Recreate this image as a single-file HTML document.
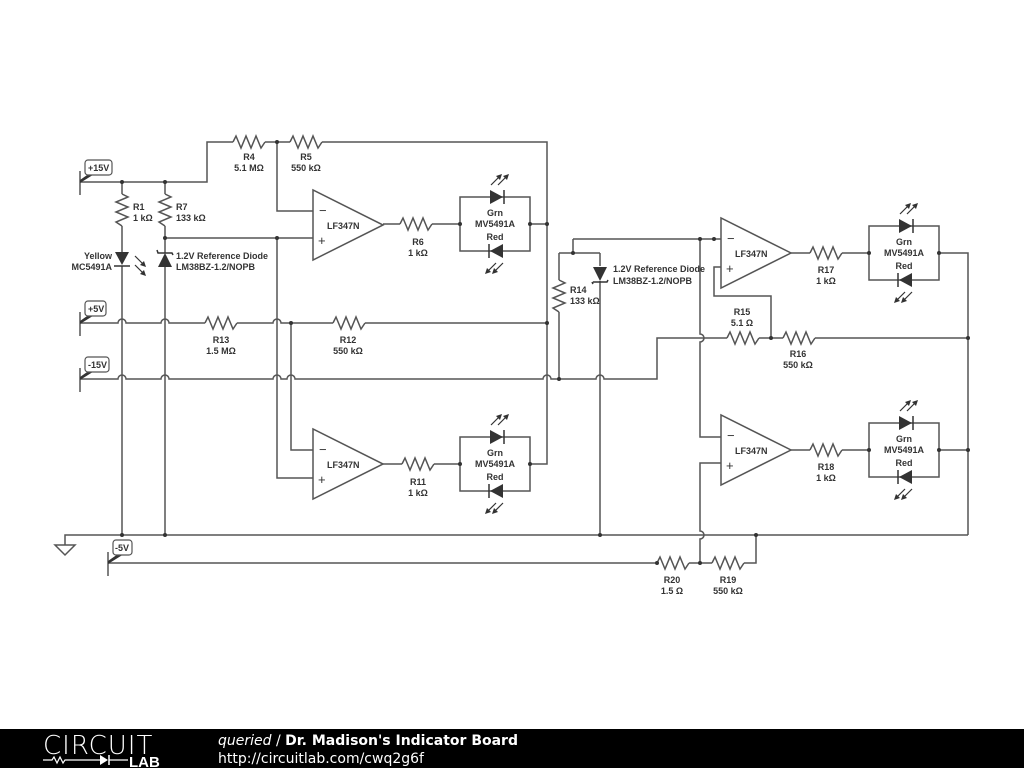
<!DOCTYPE html>
<html><head><meta charset="utf-8"><style>
html,body{margin:0;padding:0;background:#fff;width:1024px;height:768px;overflow:hidden}
svg{display:block}
text{font-family:"Liberation Sans",sans-serif;font-size:9px;fill:#333;font-weight:bold}
</style></head><body>
<svg width="1024" height="768" viewBox="0 0 1024 768">
<defs>
<path id="res" d="M-16 0 L-13 -6 L-8 6 L-3 -6 L2 6 L7 -6 L12 6 L16 0" fill="none" stroke="#555" stroke-width="1.5"/>
<g id="oa"><polygon points="0,0 0,70 70,35" fill="#fff" stroke="#555" stroke-width="1.5"/><text x="6" y="25" style="font-size:13px;font-weight:normal">−</text><text x="5" y="55" style="font-size:13px;font-weight:normal">+</text><text x="14" y="39">LF347N</text></g>
<g id="au"><path d="M0 0 L9 -9" stroke="#333" stroke-width="1.2"/><polygon points="11,-11 5,-9 9,-5" fill="#333"/></g>
<g id="ad"><path d="M0 0 L-9 9" stroke="#333" stroke-width="1.2"/><polygon points="-11,11 -5,9 -9,5" fill="#333"/></g>
<g id="led">
<rect x="0" y="0" width="70" height="54" fill="none" stroke="#555" stroke-width="1.5"/>
<polygon points="30,-7 30,7 43,0" fill="#333"/><line x1="44" y1="-7" x2="44" y2="7" stroke="#333" stroke-width="1.5"/>
<polygon points="43,47 43,61 30,54" fill="#333"/><line x1="29" y1="47" x2="29" y2="61" stroke="#333" stroke-width="1.5"/>
<use href="#au" x="31" y="-12"/><use href="#au" x="38" y="-12"/>
<use href="#ad" x="36" y="66"/><use href="#ad" x="43" y="66"/>
<text x="35" y="19" text-anchor="middle">Grn</text><text x="35" y="30" text-anchor="middle">MV5491A</text><text x="35" y="43" text-anchor="middle">Red</text>
<circle cx="0" cy="27" r="2" fill="#333"/><circle cx="70" cy="27" r="2" fill="#333"/>
</g>
<g id="sup"><line x1="0" y1="-11" x2="0" y2="13" stroke="#555" stroke-width="1.5"/><polygon points="0,1 16,-9 10,-9 0,-2" fill="#333"/></g>
</defs>
<g stroke="#555" stroke-width="1.5" fill="none">
<path d="M80 182 H207 V142 H233 M265 142 H290 M322 142 H547 V464 H530"/>
<path d="M277 142 V211 H313"/>
<path d="M165 238 H313"/>
<path d="M383 224 H400 M432 224 H460 M530 224 H547"/>
<path d="M122 182 V194 M122 226 V252 M122 266 V535"/>
<path d="M165 182 V194 M165 226 V253 M165 267 V535"/>
<path d="M80 323 H118 a4 4 0 0 1 8 0 H161 a4 4 0 0 1 8 0 H205 M237 323 H273 a4 4 0 0 1 8 0 H333 M365 323 H547"/>
<path d="M80 379 H118 a4 4 0 0 1 8 0 H161 a4 4 0 0 1 8 0 H273 a4 4 0 0 1 8 0 H287 a4 4 0 0 1 8 0 H543 a4 4 0 0 1 8 0 H596 a4 4 0 0 1 8 0 H657 V338 H727 M759 338 H783 M815 338 H968"/>
<path d="M277 238 V478 H313"/>
<path d="M291 323 V450 H313"/>
<path d="M383 464 H402 M434 464 H460"/>
<path d="M573 239 V253 H600 M559 253 H573 M559 253 V280 M559 312 V379"/>
<path d="M600 253 V266 M600 281 V535"/>
<path d="M573 239 H721"/>
<path d="M700 239 V334 a4 4 0 0 1 0 8 V437 H721"/>
<path d="M721 267 H714 V296 H771 V338"/>
<path d="M791 253 H810 M842 253 H869 M940 253 H968 V535"/>
<path d="M791 450 H810 M842 450 H869 M940 450 H968"/>
<path d="M721 463 H700 V531 a4 4 0 0 1 0 8 V563"/>
<path d="M65 545 V535 H968"/>
<path d="M55 545 H75 L65 555 Z"/>
<path d="M108 563 H657 M689 563 H712 M744 563 H756 V535"/>
</g>
<use href="#res" x="249" y="142"/>
<use href="#res" x="306" y="142"/>
<use href="#res" x="416" y="224"/>
<use href="#res" x="221" y="323"/>
<use href="#res" x="349" y="323"/>
<use href="#res" x="418" y="464"/>
<use href="#res" x="743" y="338"/>
<use href="#res" x="799" y="338"/>
<use href="#res" x="826" y="253"/>
<use href="#res" x="826" y="450"/>
<use href="#res" x="673" y="563"/>
<use href="#res" x="728" y="563"/>
<use href="#res" transform="translate(122,210) rotate(90)"/>
<use href="#res" transform="translate(165,210) rotate(90)"/>
<use href="#res" transform="translate(559,296) rotate(90)"/>
<polygon points="115,252 129,252 122,265" fill="#333"/><line x1="114" y1="266" x2="130" y2="266" stroke="#333" stroke-width="1.5"/>
<g transform="translate(135,256)"><path d="M0 0 L9 9" stroke="#333" stroke-width="1.2"/><polygon points="11,11 9,5 5,9" fill="#333"/></g>
<g transform="translate(135,265)"><path d="M0 0 L9 9" stroke="#333" stroke-width="1.2"/><polygon points="11,11 9,5 5,9" fill="#333"/></g>
<polygon points="158,267 172,267 165,253" fill="#333"/><path d="M157 250 l1 3 H172 l1 2" stroke="#333" stroke-width="1.5" fill="none"/>
<polygon points="593,267 607,267 600,281" fill="#333"/><path d="M593 284 l-1 -2 M593 282 H607 l1 -2" stroke="#333" stroke-width="1.5" fill="none"/>
<use href="#oa" x="313" y="190"/>
<use href="#oa" x="313" y="429"/>
<use href="#oa" x="721" y="218"/>
<use href="#oa" x="721" y="415"/>
<use href="#led" x="460" y="197"/>
<use href="#led" x="460" y="437"/>
<use href="#led" x="869" y="226"/>
<use href="#led" x="869" y="423"/>
<g fill="#333">
<circle cx="122" cy="182" r="2"/><circle cx="165" cy="182" r="2"/><circle cx="277" cy="142" r="2"/><circle cx="277" cy="238" r="2"/><circle cx="165" cy="238" r="2"/>
<circle cx="291" cy="323" r="2"/><circle cx="547" cy="323" r="2"/><circle cx="547" cy="224" r="2"/>
<circle cx="573" cy="253" r="2"/><circle cx="559" cy="379" r="2"/><circle cx="700" cy="239" r="2"/><circle cx="714" cy="239" r="2"/>
<circle cx="771" cy="338" r="2"/><circle cx="968" cy="338" r="2"/><circle cx="968" cy="450" r="2"/>
<circle cx="122" cy="535" r="2"/><circle cx="165" cy="535" r="2"/><circle cx="600" cy="535" r="2"/><circle cx="756" cy="535" r="2"/>
<circle cx="657" cy="563" r="2"/><circle cx="700" cy="563" r="2"/>
</g>
<use href="#sup" x="80" y="182"/><use href="#sup" x="80" y="323"/><use href="#sup" x="80" y="379"/><use href="#sup" x="108" y="563"/>
<g fill="#fff" stroke="#555" stroke-width="1.2">
<rect x="85" y="160" width="27" height="15" rx="3"/><rect x="85" y="301" width="21" height="15" rx="3"/><rect x="85" y="357" width="24" height="15" rx="3"/><rect x="113" y="540" width="19" height="15" rx="3"/>
</g>
<text x="88" y="171">+15V</text><text x="88" y="312">+5V</text><text x="88" y="368">-15V</text><text x="115" y="551">-5V</text>
<g text-anchor="middle">
<text x="249" y="160">R4</text><text x="249" y="171">5.1 MΩ</text>
<text x="306" y="160">R5</text><text x="306" y="171">550 kΩ</text>
<text x="418" y="245">R6</text><text x="418" y="256">1 kΩ</text>
<text x="221" y="343">R13</text><text x="221" y="354">1.5 MΩ</text>
<text x="348" y="343">R12</text><text x="348" y="354">550 kΩ</text>
<text x="418" y="485">R11</text><text x="418" y="496">1 kΩ</text>
<text x="742" y="315">R15</text><text x="742" y="326">5.1 Ω</text>
<text x="798" y="357">R16</text><text x="798" y="368">550 kΩ</text>
<text x="826" y="273">R17</text><text x="826" y="284">1 kΩ</text>
<text x="826" y="470">R18</text><text x="826" y="481">1 kΩ</text>
<text x="672" y="583">R20</text><text x="672" y="594">1.5 Ω</text>
<text x="728" y="583">R19</text><text x="728" y="594">550 kΩ</text>
</g>
<text x="133" y="210">R1</text><text x="133" y="221">1 kΩ</text>
<text x="176" y="210">R7</text><text x="176" y="221">133 kΩ</text>
<text x="570" y="293">R14</text><text x="570" y="304">133 kΩ</text>
<text x="112" y="259" text-anchor="end">Yellow</text><text x="112" y="270" text-anchor="end">MC5491A</text>
<text x="176" y="259">1.2V Reference Diode</text><text x="176" y="270">LM38BZ-1.2/NOPB</text>
<text x="613" y="272">1.2V Reference Diode</text><text x="613" y="284">LM38BZ-1.2/NOPB</text>
<rect x="0" y="729" width="1024" height="39" fill="#000"/>
<text x="43" y="754" style="font-size:26px;font-weight:normal;fill:#fff;letter-spacing:1px;font-family:'DejaVu Sans',sans-serif;font-weight:200">CIRCUIT</text>
<path d="M43 760 H52 l2 -3 l3 6 l3 -6 l3 6 l2 -3 H100" stroke="#fff" stroke-width="1.2" fill="none"/>
<polygon points="100,755 100,765 108,760" fill="#fff"/><line x1="109" y1="755" x2="109" y2="765" stroke="#fff" stroke-width="1.5"/>
<line x1="109" y1="760" x2="128" y2="760" stroke="#fff" stroke-width="1.2"/>
<text x="129" y="767" style="font-size:15px;fill:#fff;font-weight:bold">LAB</text>
<text x="218" y="745" style="font-size:14px;fill:#fff;font-weight:normal;font-family:'DejaVu Sans',sans-serif"><tspan font-style="italic">queried</tspan> / <tspan font-weight="bold">Dr. Madison's Indicator Board</tspan></text>
<text x="218" y="763" style="font-size:14px;fill:#fff;font-weight:normal;font-family:'DejaVu Sans',sans-serif">http://circuitlab.com/cwq2g6f</text>
</svg>
</body></html>
